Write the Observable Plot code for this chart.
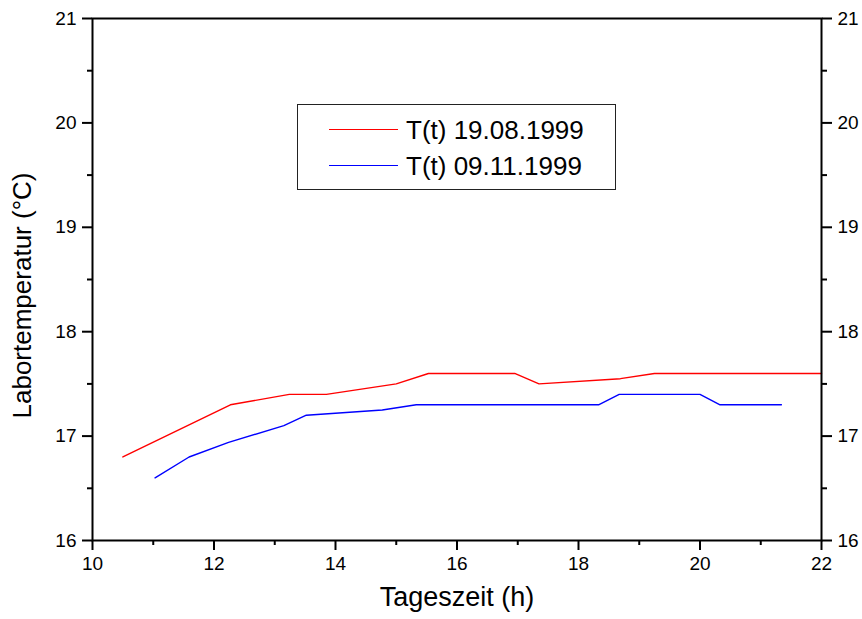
<!DOCTYPE html>
<html>
<head>
<meta charset="utf-8">
<script src="https://cdn.jsdelivr.net/npm/d3@7"></script>
<script src="https://cdn.jsdelivr.net/npm/@observablehq/plot@0.6"></script>
<style>
  html, body { margin: 0; padding: 0; background: #fff; }
  #wrap { position: relative; width: 862px; height: 619px; font-family: "Liberation Sans", Arial, sans-serif; }
  #legend { position: absolute; left: 297px; top: 104px; width: 317px; height: 84px; border: 1.5px solid #222; background: #fff; }
  .swatch { position: absolute; left: 31px; width: 69px; height: 0; }
  .lbl { position: absolute; left: 108px; font-size: 26px; color: #000; white-space: nowrap; line-height: 30px; }
</style>
</head>
<body>
<div id="wrap"></div>
<script>
// Data
const seriesNames = ["T(t) 19.08.1999", "T(t) 09.11.1999"];
const seriesColors = ["#ff0000", "#0000ff"];

const redHours = [10.5, 12.27, 13.24, 13.85, 15.0, 15.53, 16.95, 17.35, 18.69, 19.25, 22];
const redTemps = [16.8, 17.3, 17.4, 17.4, 17.5, 17.6, 17.6, 17.5, 17.55, 17.6, 17.6];

const blueHours = [11.03, 11.59, 12.24, 13.15, 13.52, 14.77, 15.33, 18.33, 18.67, 20.0, 20.33, 21.34];
const blueTemps = [16.6, 16.8, 16.94, 17.1, 17.2, 17.25, 17.3, 17.3, 17.4, 17.4, 17.3, 17.3];

const xTicks = [10, 12, 14, 16, 18, 20, 22];
const xMinor = [11, 13, 15, 17, 19, 21];
const yTicks = [16, 17, 18, 19, 20, 21];
const yMinor = [16.5, 17.5, 18.5, 19.5, 20.5];

const xTitle = "Tageszeit (h)";
const yTitle = "Labortemperatur (°C)";

const red = redHours.map((h, i) => ({h, t: redTemps[i]}));
const blue = blueHours.map((h, i) => ({h, t: blueTemps[i]}));

const font = "'Liberation Sans', Arial, sans-serif";
const fmt = d => String(d);

const chart = Plot.plot({
  width: 862,
  height: 619,
  marginLeft: 92,
  marginRight: 41,
  marginTop: 18,
  marginBottom: 79,
  style: { fontFamily: font, fontSize: "19px", color: "#000", background: "#fff" },
  x: { domain: [10, 22] },
  y: { domain: [16, 21] },
  marks: [
    Plot.line(red, { x: "h", y: "t", stroke: seriesColors[0], strokeWidth: 1.4 }),
    Plot.line(blue, { x: "h", y: "t", stroke: seriesColors[1], strokeWidth: 1.4 }),
    Plot.axisX({ anchor: "bottom", ticks: xTicks, tickSize: 10, tickPadding: 6, tickFormat: fmt, strokeWidth: 2, label: null, fontSize: 19 }),
    Plot.axisX({ anchor: "bottom", ticks: xMinor, tickSize: 5, tickFormat: () => "", strokeWidth: 2, label: null }),
    Plot.axisY({ anchor: "left", ticks: yTicks, tickSize: 10, tickPadding: 6, tickFormat: fmt, strokeWidth: 2, label: null, fontSize: 19 }),
    Plot.axisY({ anchor: "left", ticks: yMinor, tickSize: 5, tickFormat: () => "", strokeWidth: 2, label: null }),
    Plot.axisY({ anchor: "right", ticks: yTicks, tickSize: 10, tickPadding: 6, tickFormat: fmt, strokeWidth: 2, label: null, fontSize: 19 }),
    Plot.axisY({ anchor: "right", ticks: yMinor, tickSize: 5, tickFormat: () => "", strokeWidth: 2, label: null }),
    Plot.frame({ stroke: "#000", strokeWidth: 2 }),
    Plot.text([xTitle], { frameAnchor: "bottom", dy: 65, fontSize: 27, fill: "#000" }),
    Plot.text([yTitle], { frameAnchor: "left", textAnchor: "middle", dx: -70, dy: 16, rotate: -90, fontSize: 26, fill: "#000" })
  ]
});

const wrap = document.getElementById("wrap");
wrap.appendChild(chart);

// Legend overlay
const legend = document.createElement("div");
legend.id = "legend";
const tops = [10, 46];
seriesNames.forEach((name, i) => {
  const sw = document.createElement("div");
  sw.className = "swatch";
  sw.style.top = (tops[i] + 14) + "px";
  sw.style.borderTop = "1.5px solid " + seriesColors[i];
  legend.appendChild(sw);
  const lb = document.createElement("div");
  lb.className = "lbl";
  lb.style.top = tops[i] + "px";
  lb.textContent = name;
  legend.appendChild(lb);
});
wrap.appendChild(legend);
</script>
</body>
</html>
